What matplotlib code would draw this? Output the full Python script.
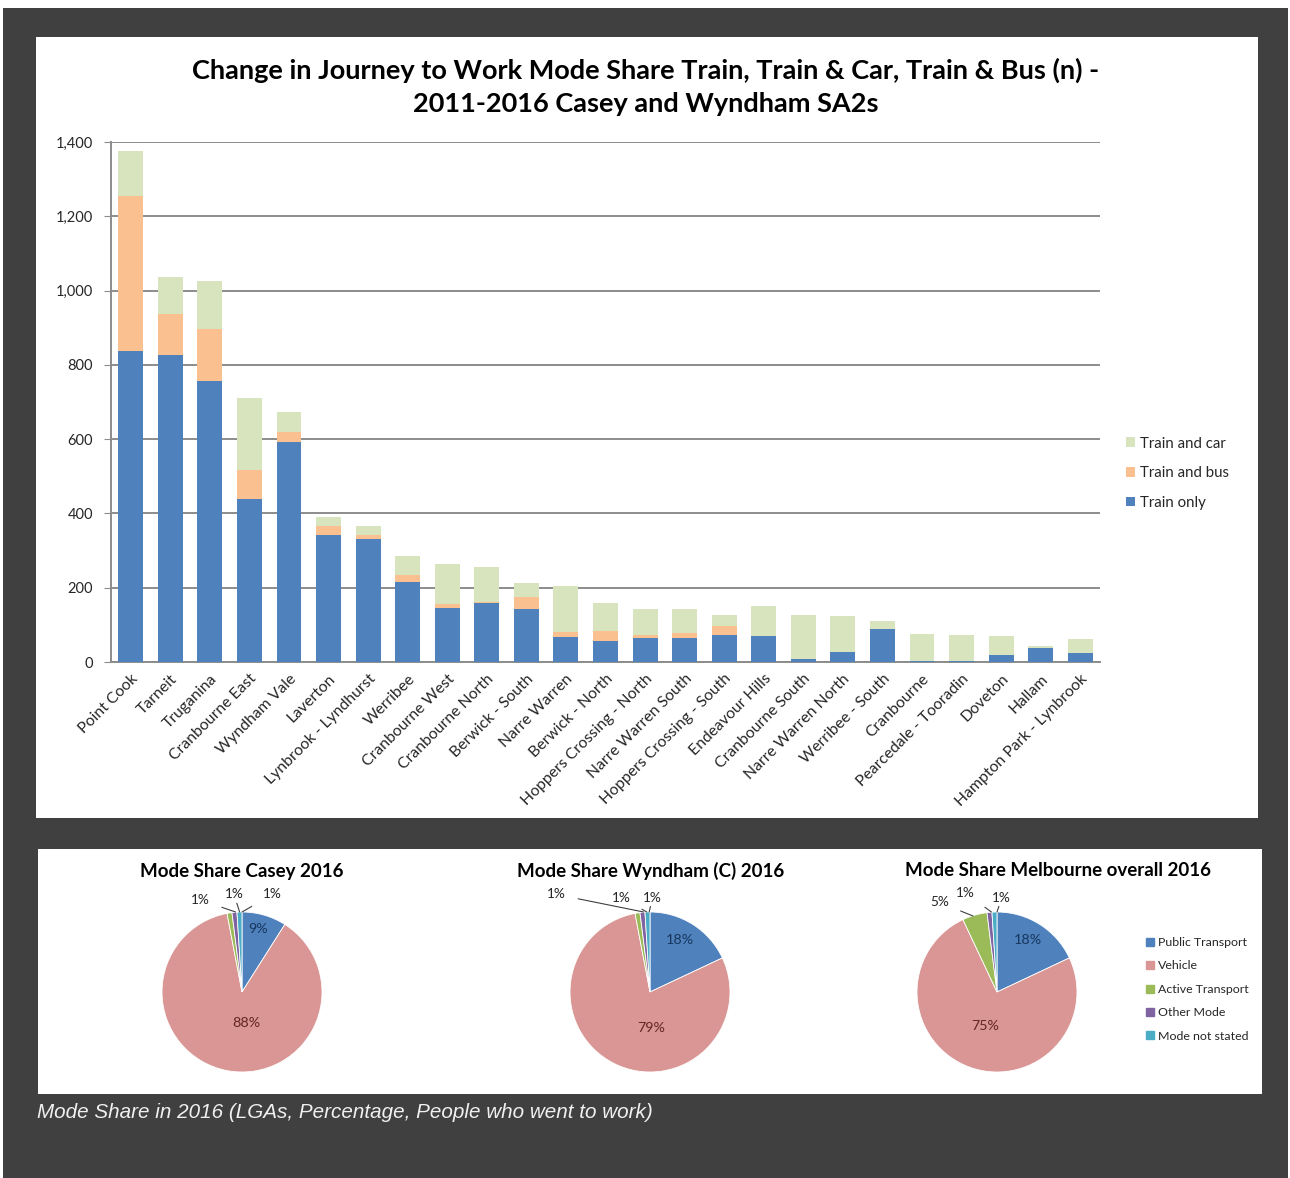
import matplotlib.pyplot as plt
from matplotlib.patches import Rectangle
from matplotlib.ticker import FuncFormatter
from matplotlib.lines import Line2D

# SA2 change in journey-to-work counts, 2011-2016
areas = ['Point Cook', 'Tarneit', 'Truganina', 'Cranbourne East', 'Wyndham Vale',
         'Laverton', 'Lynbrook - Lyndhurst', 'Werribee', 'Cranbourne West',
         'Cranbourne North', 'Berwick - South', 'Narre Warren', 'Berwick - North',
         'Hoppers Crossing - North', 'Narre Warren South', 'Hoppers Crossing - South',
         'Endeavour Hills', 'Cranbourne South', 'Narre Warren North', 'Werribee - South',
         'Cranbourne', 'Pearcedale - Tooradin', 'Doveton', 'Hallam',
         'Hampton Park - Lynbrook']
train_only = [836, 827, 756, 440, 591, 342, 332, 216, 146, 160, 144, 67, 57,
              65, 64, 74, 71, 7, 28, 89, 4, 2, 19, 38, 23]
train_bus = [418, 111, 140, 76, 28, 24, 10, 19, 11, 2, 30, 14, 27,
             9, 15, 22, 0, 0, 0, 0, 0, 0, 0, 0, 0]
train_car = [122, 99, 129, 196, 55, 25, 24, 50, 106, 94, 38, 123, 76,
             70, 63, 31, 81, 120, 95, 22, 72, 72, 52, 6, 39]

# 2016 mode share (%) for the pies
modes = ['Public Transport', 'Vehicle', 'Active Transport', 'Other Mode', 'Mode not stated']
casey_share = [9, 88, 1, 1, 1]
wyndham_share = [18, 79, 1, 1, 1]
melbourne_share = [18, 75, 5, 1, 1]

W, H = 1290, 1178
C_ONLY, C_BUS, C_CAR = '#4F81BD', '#FAC090', '#D7E4BD'
pie_colors = ['#4F81BD', '#D99694', '#9BBB59', '#8064A2', '#4BACC6']
TXT = '#262626'

plt.rcParams['font.family'] = ['Lato', 'DejaVu Sans']


def box(x0, y0, x1, y1):
    return [x0 / W, 1 - y1 / H, (x1 - x0) / W, (y1 - y0) / H]


def px(x, y):
    return x / W, 1 - y / H


def panel(x0, y0, x1, y1, color):
    fig.add_artist(Rectangle(px(x0, y1), (x1 - x0) / W, (y1 - y0) / H,
                             transform=fig.transFigure, facecolor=color,
                             edgecolor='none', zorder=-10))


fig = plt.figure(figsize=(W / 100, H / 100), dpi=100, facecolor='white')

# dark page background with two white chart panels
panel(3, 8, 1288, 1178, '#404041')
panel(36, 37, 1258, 818, 'white')
panel(38, 849, 1262, 1094, 'white')

# ---- stacked bar chart ----
ax = fig.add_axes(box(111, 142, 1100, 662))
ax.set_facecolor('none')
x = range(len(areas))
bottom2 = [a + b for a, b in zip(train_only, train_bus)]
ax.bar(x, train_only, width=0.63, color=C_ONLY, label='Train only', zorder=3)
ax.bar(x, train_bus, width=0.63, bottom=train_only, color=C_BUS, label='Train and bus', zorder=3)
ax.bar(x, train_car, width=0.63, bottom=bottom2, color=C_CAR, label='Train and car', zorder=3)
ax.set_xlim(-0.5, len(areas) - 0.5)
ax.set_ylim(0, 1400)
ax.set_yticks(range(0, 1401, 200))
ax.yaxis.set_major_formatter(FuncFormatter(lambda v, p: f'{int(v):,}'))
ax.grid(axis='y', color='#8C8C8C', linewidth=1.4, zorder=0)
for s in ['top', 'right']:
    ax.spines[s].set_visible(False)
for s in ['left', 'bottom']:
    ax.spines[s].set_color('#8C8C8C')
    ax.spines[s].set_linewidth(1.4)
ax.tick_params(axis='y', length=5, color='#8C8C8C', labelsize=10.5, labelcolor=TXT, pad=8)
ax.tick_params(axis='x', length=0, pad=7)
ax.set_xticks(list(x))
ax.set_xticklabels(areas, rotation=45, ha='right', rotation_mode='anchor',
                   fontsize=11.3, color=TXT)

fig.text(*px(646, 70), 'Change in Journey to Work Mode Share Train, Train & Car, Train & Bus (n) -',
         ha='center', va='center', fontsize=19.5, fontweight='bold', color='black')
fig.text(*px(646, 104), '2011-2016 Casey and Wyndham SA2s',
         ha='center', va='center', fontsize=19.5, fontweight='bold', color='black')

h, l = ax.get_legend_handles_labels()
fig.legend(h[::-1], l[::-1], loc='upper left', bbox_to_anchor=px(1112, 423),
           frameon=False, fontsize=10.8, labelcolor=TXT, handlelength=0.6,
           handleheight=0.6, handletextpad=0.4, labelspacing=1.05)

# ---- pie charts ----
def draw_pie(cx, cy, r, shares, title, title_x, inner_pos, out_labels):
    pad = 1.35
    a = fig.add_axes(box(cx - r * pad, cy - r * pad, cx + r * pad, cy + r * pad))
    a.pie(shares, colors=pie_colors, startangle=90, counterclock=False,
          wedgeprops=dict(edgecolor='white', linewidth=0.6))
    a.set_xlim(-pad, pad)
    a.set_ylim(-pad, pad)
    a.set_aspect('equal')
    a.axis('off')
    fig.text(*px(title_x, 871), title, ha='center', va='center', fontsize=13.5,
             fontweight='bold', color='black')
    # inside labels for the two large slices
    (x0, y0), (x1, y1) = inner_pos
    a.text(x0, y0, f'{shares[0]}%', ha='center', va='center', fontsize=10.3, color='#17375E')
    a.text(x1, y1, f'{shares[1]}%', ha='center', va='center', fontsize=10.3, color='#632523')
    # small slices with leader lines
    for (idx, tx, ty, ex, ey) in out_labels:
        a.annotate(f'{shares[idx]}%', xy=(ex, ey), xytext=(tx, ty), ha='center', va='center',
                   fontsize=9.8, color=TXT, annotation_clip=False,
                   arrowprops=dict(arrowstyle='-', color='#404040', lw=0.8,
                                   shrinkA=7, shrinkB=0))


draw_pie(242, 992, 80, casey_share, 'Mode Share Casey 2016', 242,
         [(0.2, 0.79), (0.06, -0.39)],
         [(2, -0.52, 1.15, -0.08, 1.0), (3, -0.1, 1.22, -0.03, 1.0), (4, 0.38, 1.22, 0.0, 1.0)])
draw_pie(650, 992, 80, wyndham_share, 'Mode Share Wyndham (C) 2016', 651,
         [(0.375, 0.65), (0.01, -0.45)],
         [(2, -1.17, 1.22, -0.08, 1.0), (3, -0.36, 1.18, -0.04, 1.0), (4, 0.03, 1.18, -0.01, 1.0)])
draw_pie(997, 992, 80, melbourne_share, 'Mode Share Melbourne overall 2016', 1058,
         [(0.39, 0.65), (-0.15, -0.42)],
         [(2, -0.72, 1.12, -0.3, 0.95), (3, -0.4, 1.24, -0.07, 1.0), (4, 0.06, 1.18, 0.0, 1.0)])

handles = [Line2D([], [], marker='s', linestyle='none', markersize=6, color=c) for c in pie_colors]
fig.legend(handles, modes, loc='upper left', bbox_to_anchor=px(1130, 926), frameon=False,
           fontsize=8.9, labelcolor=TXT, handlelength=1.4, handletextpad=0.0,
           labelspacing=1.0)

fig.text(*px(37, 1113), 'Mode Share in 2016 (LGAs, Percentage, People who went to work)',
         ha='left', va='center', fontsize=14.9, style='italic', color='#F0F0F0',
         family=['Liberation Sans', 'DejaVu Sans'])

fig.savefig('out.png', dpi=100, facecolor='white')
